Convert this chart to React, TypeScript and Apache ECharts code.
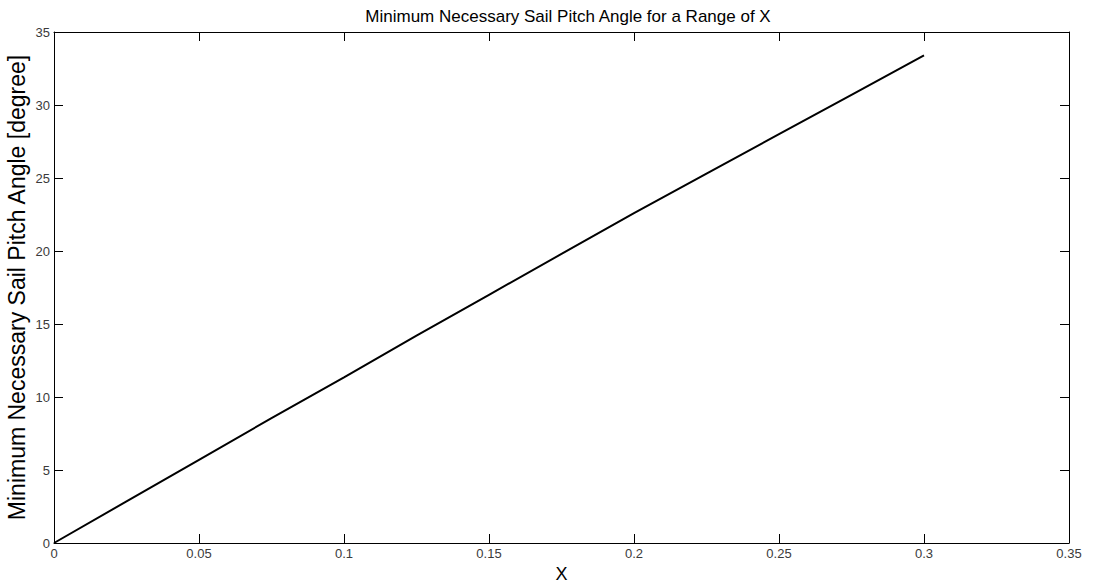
import React, { useEffect, useRef } from "react";
import * as echarts from "echarts";

// Sampled ratio X and the minimum sail pitch angle (degrees) at each sample
const xValues = [0, 0.025, 0.05, 0.075, 0.1, 0.125, 0.15, 0.175, 0.2, 0.225, 0.25, 0.275, 0.3];
const angleValues = [0, 2.85, 5.7, 8.55, 11.35, 14.2, 17.0, 19.8, 22.6, 25.3, 28.0, 30.7, 33.4];

const xTicks = [0, 0.05, 0.1, 0.15, 0.2, 0.25, 0.3, 0.35];
const yTicks = [0, 5, 10, 15, 20, 25, 30, 35];

const FONT = "Liberation Sans, Arial, Helvetica, sans-serif";

export default function App() {
  const ref = useRef<HTMLDivElement>(null);

  useEffect(() => {
    document.body.style.margin = "0";
    if (!ref.current) return;
    const chart = echarts.init(ref.current, null, { renderer: "svg" });

    const tickStyle = { show: true, inside: true, length: 9, lineStyle: { color: "#000", width: 1 } };
    const lineStyle = { show: true, onZero: false, lineStyle: { color: "#000", width: 1 } };
    const labelStyle = { color: "#3a3a3a", fontSize: 13, fontFamily: FONT };

    chart.setOption({
      animation: false,
      backgroundColor: "#fff",
      title: {
        text: "Minimum Necessary Sail Pitch Angle for a Range of X",
        left: 563,
        top: 3,
        textAlign: "center",
        textStyle: { fontSize: 17, fontWeight: "normal", color: "#000", fontFamily: FONT },
      },
      grid: { left: 54, right: 24, top: 32, bottom: 41, containLabel: false, outerBoundsMode: "none" },
      xAxis: [
        {
          type: "value",
          min: xTicks[0],
          max: xTicks[xTicks.length - 1],
          interval: 0.05,
          name: "X",
          nameLocation: "middle",
          nameGap: 22,
          nameMoveOverlap: false,
          nameTextStyle: { fontSize: 18, color: "#000", fontFamily: FONT },
          axisLine: lineStyle,
          axisTick: tickStyle,
          axisLabel: { ...labelStyle, margin: 4, formatter: (v: number) => String(parseFloat(v.toFixed(2))) },
          splitLine: { show: false },
        },
        {
          type: "value",
          position: "top",
          min: xTicks[0],
          max: xTicks[xTicks.length - 1],
          interval: 0.05,
          axisLine: lineStyle,
          axisTick: tickStyle,
          axisLabel: { show: false },
          splitLine: { show: false },
        },
      ],
      yAxis: [
        {
          type: "value",
          min: yTicks[0],
          max: yTicks[yTicks.length - 1],
          interval: 5,
          name: "Minimum Necessary Sail Pitch Angle [degree]",
          nameLocation: "middle",
          nameGap: 26,
          nameMoveOverlap: false,
          nameTextStyle: { fontSize: 23, color: "#000", fontFamily: FONT },
          axisLine: lineStyle,
          axisTick: tickStyle,
          axisLabel: { ...labelStyle, margin: 4 },
          splitLine: { show: false },
        },
        {
          type: "value",
          position: "right",
          min: yTicks[0],
          max: yTicks[yTicks.length - 1],
          interval: 5,
          axisLine: lineStyle,
          axisTick: tickStyle,
          axisLabel: { show: false },
          splitLine: { show: false },
        },
      ],
      series: [
        {
          type: "line",
          data: xValues.map((x, i) => [x, angleValues[i]]),
          showSymbol: false,
          lineStyle: { color: "#000", width: 2 },
          xAxisIndex: 0,
          yAxisIndex: 0,
        },
      ],
    });

    return () => chart.dispose();
  }, []);

  return <div ref={ref} style={{ width: 1093, height: 584 }} />;
}
